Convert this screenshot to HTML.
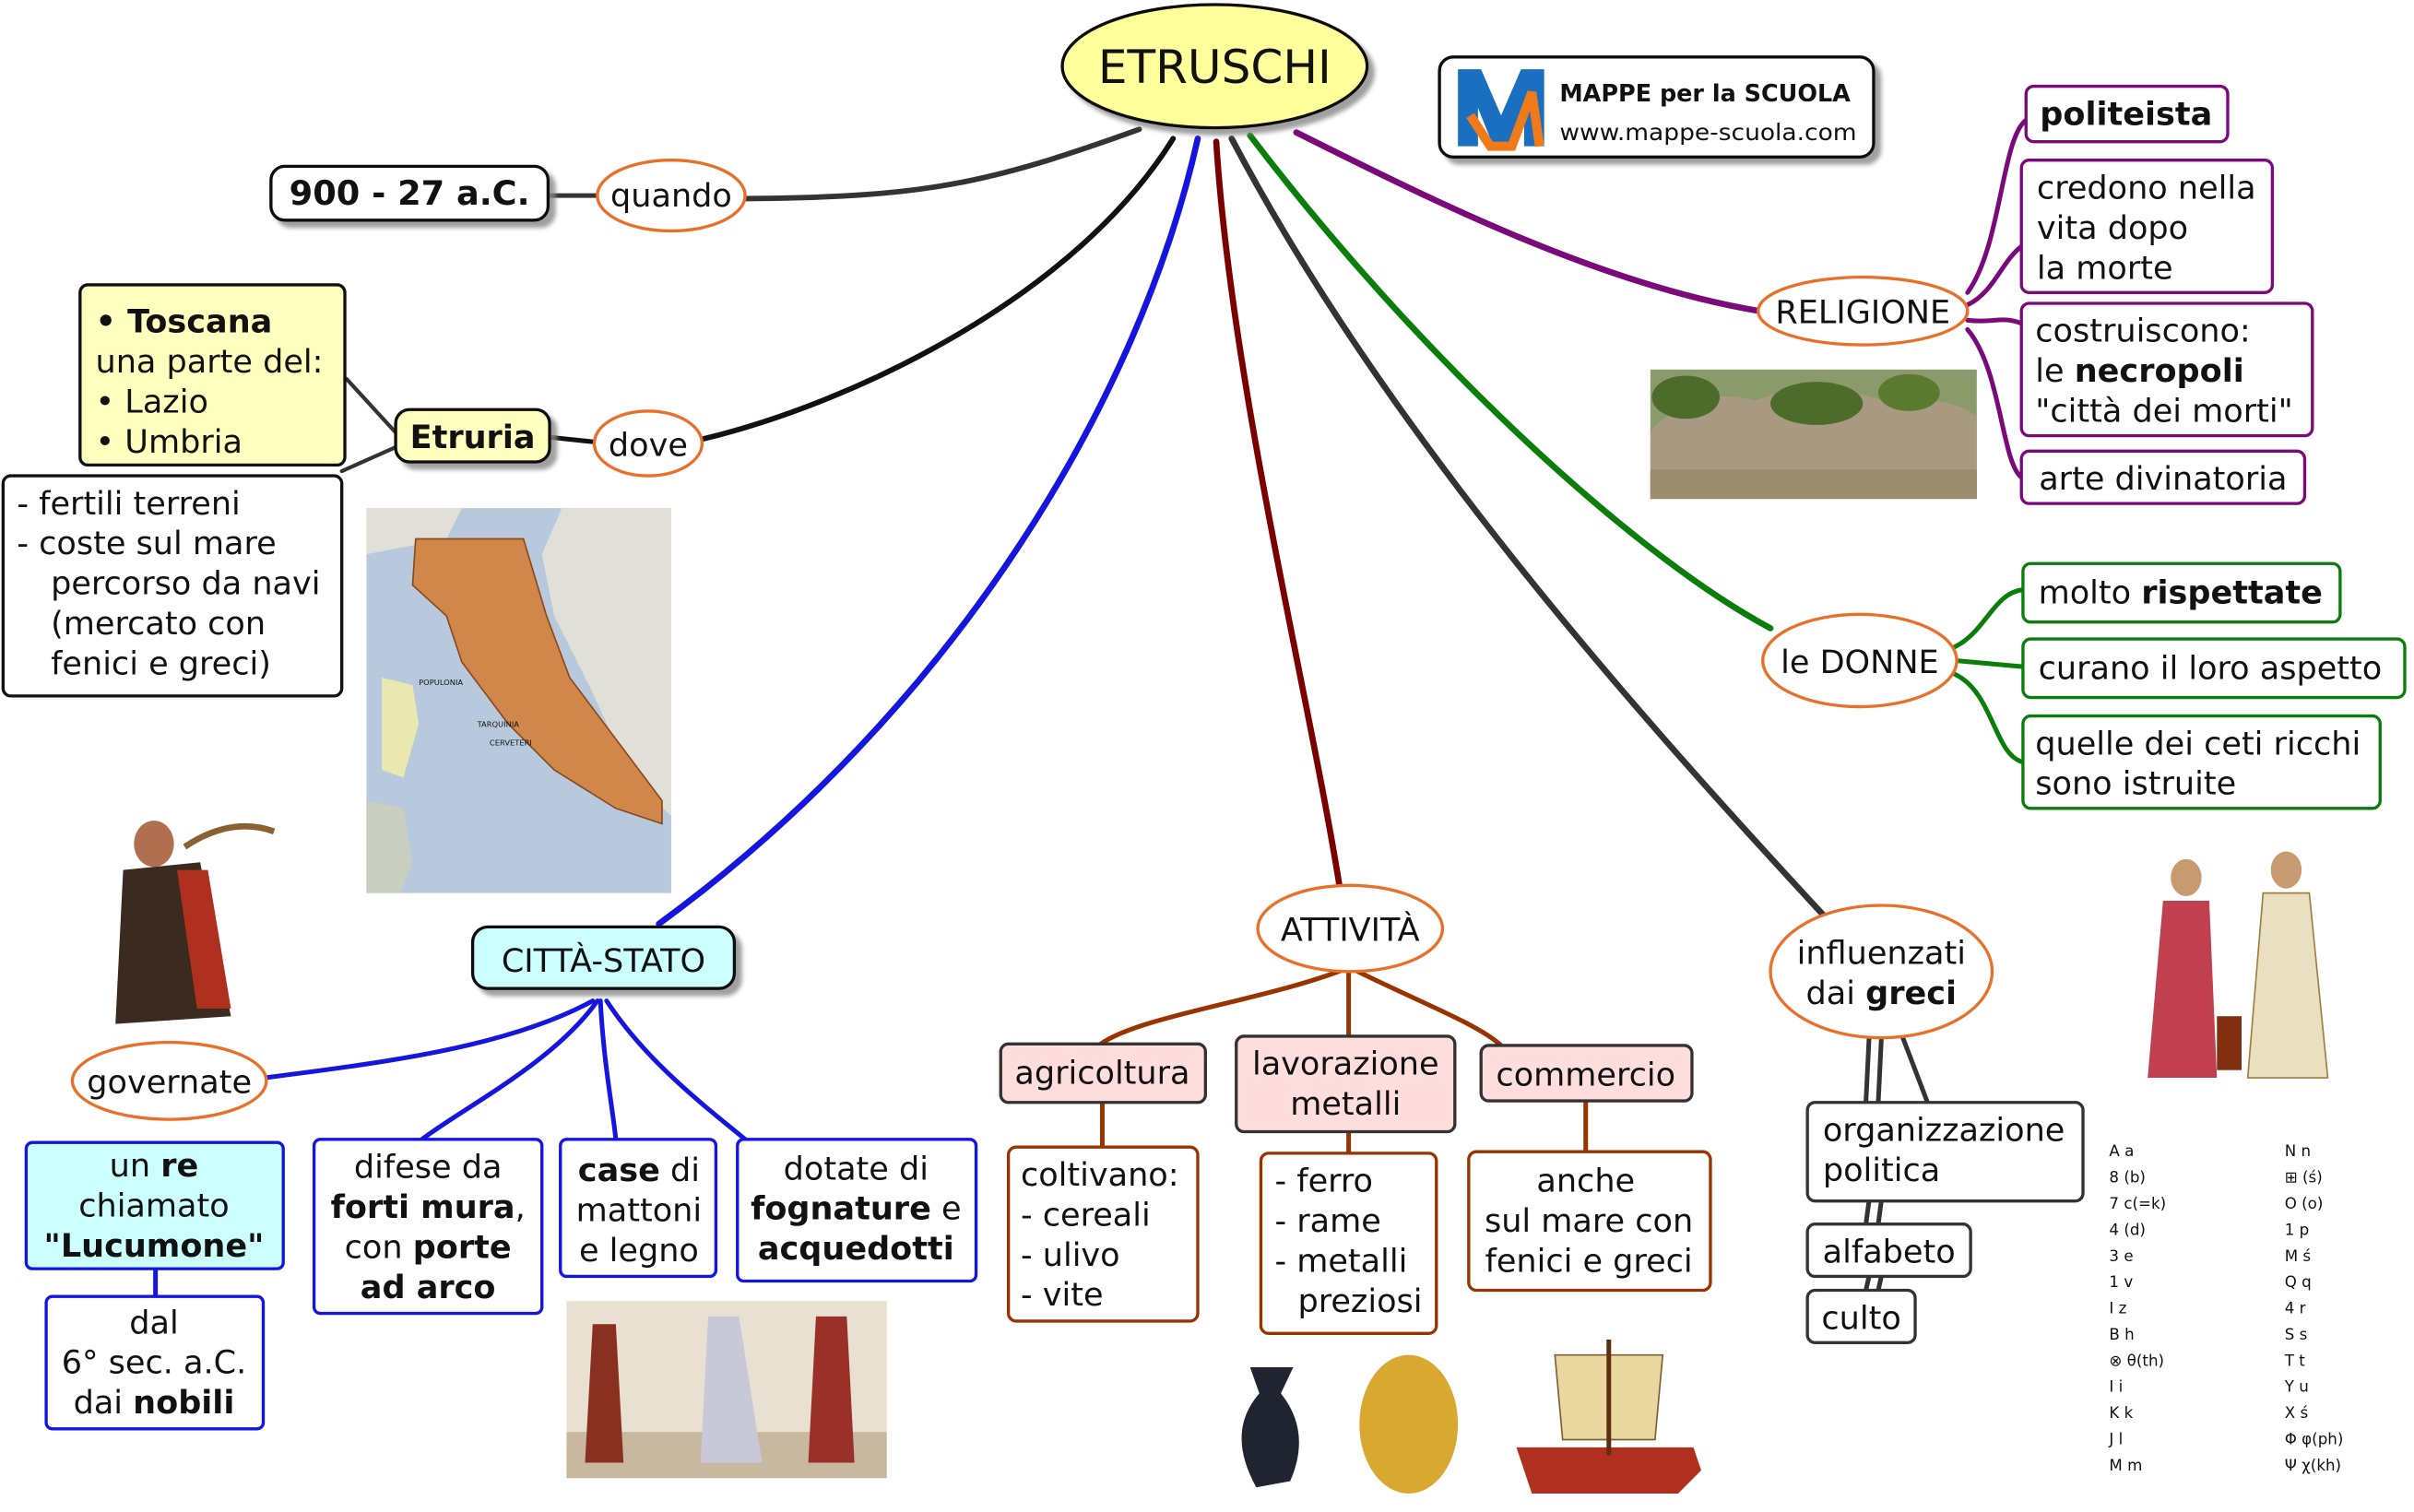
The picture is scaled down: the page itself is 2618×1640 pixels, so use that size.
<!DOCTYPE html>
<html><head><meta charset="utf-8">
<style>
html,body{margin:0;padding:0;background:#fff;}
svg{display:block;}
text{font-family:"DejaVu Sans","Liberation Sans",sans-serif;fill:#111;}
</style></head>
<body>
<svg width="2618" height="1640" viewBox="0 0 1568 982" preserveAspectRatio="none" xmlns="http://www.w3.org/2000/svg">
<defs>
<filter id="sh" x="-10%" y="-10%" width="130%" height="140%"><feDropShadow dx="4" dy="4" stdDeviation="1.5" flood-color="#888" flood-opacity="0.8"/></filter>
</defs>
<rect width="1568" height="982" fill="#fff"/>

<g fill="none" stroke-linecap="round">
<path d="M740 84 C640 120 600 128 484 129" stroke="#333" stroke-width="3.5"/>
<path d="M762 90 C700 190 560 260 457 285" stroke="#111" stroke-width="3.5"/>
<path d="M778 90 C740 260 620 460 428 600" stroke="#1515e0" stroke-width="4"/>
<path d="M790 92 C800 250 850 450 870 575" stroke="#7a0000" stroke-width="4"/>
<path d="M800 90 C900 280 1060 460 1185 595" stroke="#333" stroke-width="4"/>
<path d="M812 88 C920 230 1060 360 1150 408" stroke="#0a7d0a" stroke-width="4"/>
<path d="M842 86 C930 130 1040 185 1143 202" stroke="#7a0a7a" stroke-width="4"/>
<path d="M356 127 L388 127" stroke="#333" stroke-width="3"/>
<path d="M357 284 L386 287" stroke="#111" stroke-width="3"/>
<path d="M258 282 L225 246 M258 290 L222 306" stroke="#333" stroke-width="2.5"/>
<path d="M1278 190 C1300 160 1300 90 1316 78" stroke="#7a0a7a" stroke-width="3"/>
<path d="M1278 198 C1295 190 1300 170 1313 160" stroke="#7a0a7a" stroke-width="3"/>
<path d="M1278 208 C1295 210 1300 205 1313 210" stroke="#7a0a7a" stroke-width="3"/>
<path d="M1278 214 C1300 240 1300 300 1313 310" stroke="#7a0a7a" stroke-width="3"/>
<path d="M1270 420 C1290 410 1295 385 1314 383" stroke="#0a7d0a" stroke-width="3"/>
<path d="M1270 429 L1314 433" stroke="#0a7d0a" stroke-width="3"/>
<path d="M1270 438 C1295 450 1295 490 1314 495" stroke="#0a7d0a" stroke-width="3"/>
<path d="M385 650 C330 680 250 690 172 700" stroke="#1515e0" stroke-width="3"/>
<path d="M388 650 C360 690 300 720 274 740" stroke="#1515e0" stroke-width="3"/>
<path d="M390 650 C392 690 398 720 400 740" stroke="#1515e0" stroke-width="3"/>
<path d="M394 650 C420 690 460 720 484 740" stroke="#1515e0" stroke-width="3"/>
<path d="M101 824 L101 842" stroke="#1515e0" stroke-width="3"/>
<path d="M872 630 C820 650 740 660 715 678" stroke="#993300" stroke-width="3"/>
<path d="M876 630 L876 673" stroke="#993300" stroke-width="3"/>
<path d="M880 630 C920 650 960 665 975 679" stroke="#993300" stroke-width="3"/>
<path d="M716 716 L716 745 M876 735 L876 749 M1030 715 L1030 748" stroke="#993300" stroke-width="3"/>
<path d="M1222 675 L1220 716 M1214 675 L1212 716 M1236 674 L1252 716" stroke="#333" stroke-width="3"/>
<path d="M1214 780 L1212 795 M1222 780 L1220 795" stroke="#333" stroke-width="3"/>
<path d="M1214 829 L1212 838 M1222 829 L1220 838" stroke="#333" stroke-width="3"/>
</g>

<ellipse cx="789" cy="43" rx="99" ry="40" fill="#ffff9c" stroke="#111" stroke-width="2" filter="url(#sh)"/>
<text x="789" y="54" font-size="30" text-anchor="middle">ETRUSCHI</text>

<rect x="935" y="37" width="282" height="65" rx="9" fill="#fff" stroke="#111" stroke-width="2" filter="url(#sh)"/>
<path d="M947 95 L947 45 L962 45 L975 75 L988 45 L1003 45 L1003 95 L990 95 L990 70 L980 95 L970 95 L960 70 L960 95 Z" fill="#1a6fc0"/>
<path d="M955 75 L968 95 L982 95 L995 60 L1000 95" fill="none" stroke="#f07a1a" stroke-width="6"/>
<text x="1013" y="66" font-size="15.5" font-weight="bold" textLength="189" lengthAdjust="spacingAndGlyphs">MAPPE per la SCUOLA</text>
<text x="1013" y="91" font-size="15" textLength="193" lengthAdjust="spacingAndGlyphs">www.mappe-scuola.com</text>

<rect x="176" y="108" width="180" height="35" rx="9" fill="#fff" stroke="#111" stroke-width="2" filter="url(#sh)"/>
<text x="266" y="133" font-size="22" font-weight="bold" text-anchor="middle">900 - 27 a.C.</text>
<ellipse cx="436" cy="127" rx="48" ry="23" fill="#fff" stroke="#e8702a" stroke-width="2"/>
<text x="436" y="134" font-size="21" text-anchor="middle">quando</text>

<ellipse cx="421" cy="288" rx="35" ry="21" fill="#fff" stroke="#e8702a" stroke-width="2"/>
<text x="421" y="296" font-size="21" text-anchor="middle">dove</text>
<rect x="257" y="266" width="100" height="34" rx="9" fill="#ffffc0" stroke="#111" stroke-width="2" filter="url(#sh)"/>
<text x="307" y="291" font-size="21" font-weight="bold" text-anchor="middle">Etruria</text>
<rect x="52" y="185" width="172" height="117" rx="5" fill="#ffffc0" stroke="#111" stroke-width="2"/>
<text font-size="21"><tspan x="62" y="216" font-weight="bold">• Toscana</tspan><tspan x="62" y="242">una parte del:</tspan><tspan x="62" y="268">• Lazio</tspan><tspan x="62" y="294">• Umbria</tspan></text>
<rect x="2" y="309" width="220" height="143" rx="5" fill="#fff" stroke="#111" stroke-width="2"/>
<text font-size="21"><tspan x="11" y="334">- fertili terreni</tspan><tspan x="11" y="360">- coste sul mare</tspan><tspan x="33" y="386">percorso da navi</tspan><tspan x="33" y="412">(mercato con</tspan><tspan x="33" y="438">fenici e greci)</tspan></text>

<g>
<rect x="238" y="330" width="198" height="250" fill="#b9c9dd"/>
<path d="M365 330 L436 330 L436 530 L410 505 L385 450 L360 400 L352 360 Z" fill="#e0e0d8"/>
<path d="M238 330 L300 330 L290 350 L238 360 Z" fill="#e0e0d8"/>
<path d="M270 350 L340 350 L355 400 L370 440 L400 480 L430 520 L430 535 L400 525 L360 500 L330 470 L300 430 L290 400 L268 380 Z" fill="#d2874a" stroke="#8a4a20" stroke-width="1"/>
<path d="M248 440 L268 445 L272 470 L262 505 L248 500 Z" fill="#e8e8b0"/>
<path d="M238 520 L262 525 L268 560 L260 580 L238 580 Z" fill="#c8cfc0"/>
<text x="272" y="445" font-size="5">POPULONIA</text><text x="310" y="472" font-size="5">TARQUINIA</text><text x="318" y="484" font-size="5">CERVETERI</text>
</g>

<ellipse cx="1210" cy="202" rx="68" ry="22" fill="#fff" stroke="#e8702a" stroke-width="2"/>
<text x="1210" y="210" font-size="21" text-anchor="middle">RELIGIONE</text>
<rect x="1316" y="56" width="131" height="36" rx="5" fill="#fff" stroke="#7a0a7a" stroke-width="2"/>
<text x="1381" y="81" font-size="21" font-weight="bold" text-anchor="middle">politeista</text>
<rect x="1313" y="104" width="163" height="86" rx="5" fill="#fff" stroke="#7a0a7a" stroke-width="2"/>
<text font-size="21"><tspan x="1323" y="129">credono nella</tspan><tspan x="1323" y="155">vita dopo</tspan><tspan x="1323" y="181">la morte</tspan></text>
<rect x="1313" y="197" width="189" height="86" rx="5" fill="#fff" stroke="#7a0a7a" stroke-width="2"/>
<text font-size="21"><tspan x="1322" y="222">costruiscono:</tspan><tspan x="1322" y="248">le <tspan font-weight="bold">necropoli</tspan></tspan><tspan x="1322" y="274">"città dei morti"</tspan></text>
<rect x="1313" y="293" width="184" height="34" rx="5" fill="#fff" stroke="#7a0a7a" stroke-width="2"/>
<text x="1405" y="318" font-size="21" text-anchor="middle">arte divinatoria</text>
<rect x="1072" y="240" width="212" height="84" fill="#8a9a6a"/>
<path d="M1072 280 Q1100 250 1140 260 Q1180 245 1230 262 Q1260 255 1284 270 L1284 324 L1072 324 Z" fill="#a89a80"/>
<ellipse cx="1180" cy="262" rx="30" ry="14" fill="#4d6b2a"/><ellipse cx="1095" cy="258" rx="22" ry="14" fill="#4d6b2a"/>
<ellipse cx="1240" cy="255" rx="20" ry="12" fill="#5a7a30"/>
<rect x="1072" y="305" width="212" height="19" fill="#9a8c6c"/>

<ellipse cx="1208" cy="429" rx="63" ry="30" fill="#fff" stroke="#e8702a" stroke-width="2"/>
<text x="1208" y="437" font-size="21" text-anchor="middle">le DONNE</text>
<rect x="1314" y="366" width="206" height="38" rx="5" fill="#fff" stroke="#0a7d0a" stroke-width="2"/>
<text x="1324" y="392" font-size="21">molto <tspan font-weight="bold">rispettate</tspan></text>
<rect x="1314" y="415" width="248" height="38" rx="5" fill="#fff" stroke="#0a7d0a" stroke-width="2"/>
<text x="1324" y="441" font-size="21">curano il loro aspetto</text>
<rect x="1314" y="465" width="232" height="60" rx="5" fill="#fff" stroke="#0a7d0a" stroke-width="2"/>
<text font-size="21"><tspan x="1322" y="490">quelle dei ceti ricchi</tspan><tspan x="1322" y="516">sono istruite</tspan></text>

<g>
<ellipse cx="1420" cy="570" rx="10" ry="12" fill="#c89a70"/>
<path d="M1405 585 L1435 585 L1440 700 L1395 700 Z" fill="#c04050"/>
<ellipse cx="1485" cy="565" rx="10" ry="12" fill="#c89a70"/>
<path d="M1470 580 L1500 580 L1512 700 L1460 700 Z" fill="#e8e0c0" stroke="#a08040"/>
<rect x="1440" y="660" width="16" height="35" fill="#803010"/>
</g>

<rect x="307" y="602" width="170" height="40" rx="10" fill="#ccffff" stroke="#111" stroke-width="2" filter="url(#sh)"/>
<text x="392" y="631" font-size="21" text-anchor="middle">CITTÀ-STATO</text>
<ellipse cx="110" cy="702" rx="63" ry="25" fill="#fff" stroke="#e8702a" stroke-width="2"/>
<text x="110" y="710" font-size="21" text-anchor="middle">governate</text>
<rect x="17" y="742" width="167" height="82" rx="4" fill="#ccffff" stroke="#1515e0" stroke-width="2"/>
<text font-size="21" text-anchor="middle"><tspan x="100" y="764">un <tspan font-weight="bold">re</tspan></tspan><tspan x="100" y="790">chiamato</tspan><tspan x="100" y="816" font-weight="bold">"Lucumone"</tspan></text>
<rect x="30" y="842" width="141" height="86" rx="4" fill="#fff" stroke="#1515e0" stroke-width="2"/>
<text font-size="21" text-anchor="middle"><tspan x="100" y="866">dal</tspan><tspan x="100" y="892">6° sec. a.C.</tspan><tspan x="100" y="918">dai <tspan font-weight="bold">nobili</tspan></tspan></text>
<rect x="204" y="740" width="148" height="113" rx="4" fill="#fff" stroke="#1515e0" stroke-width="2"/>
<text font-size="21" text-anchor="middle"><tspan x="278" y="765">difese da</tspan><tspan x="278" y="791" font-weight="bold">forti mura<tspan font-weight="normal">,</tspan></tspan><tspan x="278" y="817">con <tspan font-weight="bold">porte</tspan></tspan><tspan x="278" y="843" font-weight="bold">ad arco</tspan></text>
<rect x="364" y="740" width="101" height="89" rx="4" fill="#fff" stroke="#1515e0" stroke-width="2"/>
<text font-size="21" text-anchor="middle"><tspan x="415" y="767"><tspan font-weight="bold">case</tspan> di</tspan><tspan x="415" y="793">mattoni</tspan><tspan x="415" y="819">e legno</tspan></text>
<rect x="479" y="740" width="155" height="92" rx="4" fill="#fff" stroke="#1515e0" stroke-width="2"/>
<text font-size="21" text-anchor="middle"><tspan x="556" y="766">dotate di</tspan><tspan x="556" y="792"><tspan font-weight="bold">fognature</tspan> e</tspan><tspan x="556" y="818" font-weight="bold">acquedotti</tspan></text>

<g>
<ellipse cx="100" cy="548" rx="13" ry="15" fill="#b07050"/>
<path d="M80 565 L130 560 L150 660 L75 665 Z" fill="#3a2a20"/>
<path d="M115 565 L135 565 L150 655 L128 655 Z" fill="#b03020"/>
<path d="M120 550 Q150 530 178 540" stroke="#8a6030" stroke-width="4" fill="none"/>
</g>
<rect x="368" y="845" width="208" height="115" fill="#e8e0d0"/>
<rect x="368" y="930" width="208" height="30" fill="#c8b8a0"/>
<path d="M385 860 L400 860 L405 950 L380 950 Z" fill="#8a3020"/>
<path d="M460 855 L480 855 L495 950 L455 950 Z" fill="#c8c8d8"/>
<path d="M530 855 L550 855 L555 950 L525 950 Z" fill="#9a3028"/>

<ellipse cx="877" cy="603" rx="60" ry="28" fill="#fff" stroke="#e8702a" stroke-width="2"/>
<text x="877" y="611" font-size="21" text-anchor="middle">ATTIVITÀ</text>
<rect x="650" y="678" width="133" height="38" rx="5" fill="#ffdddd" stroke="#333" stroke-width="2"/>
<text x="716" y="704" font-size="21" text-anchor="middle">agricoltura</text>
<rect x="803" y="673" width="142" height="62" rx="5" fill="#ffdddd" stroke="#333" stroke-width="2"/>
<text font-size="21" text-anchor="middle"><tspan x="874" y="698">lavorazione</tspan><tspan x="874" y="724">metalli</tspan></text>
<rect x="962" y="679" width="137" height="36" rx="5" fill="#ffdddd" stroke="#333" stroke-width="2"/>
<text x="1030" y="705" font-size="21" text-anchor="middle">commercio</text>
<rect x="655" y="745" width="123" height="113" rx="5" fill="#fff" stroke="#993300" stroke-width="2"/>
<text font-size="21"><tspan x="663" y="770">coltivano:</tspan><tspan x="663" y="796">- cereali</tspan><tspan x="663" y="822">- ulivo</tspan><tspan x="663" y="848">- vite</tspan></text>
<rect x="819" y="749" width="114" height="117" rx="5" fill="#fff" stroke="#993300" stroke-width="2"/>
<text font-size="21"><tspan x="828" y="774">- ferro</tspan><tspan x="828" y="800">- rame</tspan><tspan x="828" y="826">- metalli</tspan><tspan x="843" y="852">preziosi</tspan></text>
<rect x="954" y="748" width="157" height="90" rx="5" fill="#fff" stroke="#993300" stroke-width="2"/>
<text font-size="21" text-anchor="middle"><tspan x="1030" y="774">anche</tspan><tspan x="1032" y="800">sul mare con</tspan><tspan x="1032" y="826">fenici e greci</tspan></text>
<path d="M812 888 L840 888 L832 905 Q852 930 838 962 L816 966 Q796 930 818 905 Z" fill="#1f2430"/>
<ellipse cx="915" cy="925" rx="32" ry="45" fill="#d8a830"/>
<path d="M985 940 L1100 940 L1105 955 L1090 970 L995 970 Z" fill="#b03020"/>
<path d="M1010 880 L1080 880 L1075 935 L1015 935 Z" fill="#e8d8a0" stroke="#806030"/>
<line x1="1045" y1="870" x2="1045" y2="945" stroke="#5a3010" stroke-width="3"/>

<ellipse cx="1222" cy="631" rx="72" ry="43" fill="#fff" stroke="#e8702a" stroke-width="2"/>
<text font-size="21" text-anchor="middle"><tspan x="1222" y="626">influenzati</tspan><tspan x="1222" y="652">dai <tspan font-weight="bold">greci</tspan></tspan></text>
<rect x="1174" y="716" width="179" height="64" rx="5" fill="#fff" stroke="#333" stroke-width="2"/>
<text font-size="21"><tspan x="1184" y="741">organizzazione</tspan><tspan x="1184" y="767">politica</tspan></text>
<rect x="1174" y="795" width="106" height="34" rx="5" fill="#fff" stroke="#333" stroke-width="2"/>
<text x="1227" y="820" font-size="21" text-anchor="middle">alfabeto</text>
<rect x="1174" y="838" width="70" height="34" rx="5" fill="#fff" stroke="#333" stroke-width="2"/>
<text x="1209" y="863" font-size="21" text-anchor="middle">culto</text>

<g font-size="10" fill="#222">
<text x="1370" y="751">A   a</text><text x="1370" y="768">8   (b)</text><text x="1370" y="785">7   c(=k)</text><text x="1370" y="802">4   (d)</text><text x="1370" y="819">3   e</text><text x="1370" y="836">1   v</text><text x="1370" y="853">I   z</text><text x="1370" y="870">B   h</text><text x="1370" y="887">⊗   θ(th)</text><text x="1370" y="904">I   i</text><text x="1370" y="921">K   k</text><text x="1370" y="938">J   l</text><text x="1370" y="955">M   m</text>
<text x="1484" y="751">N   n</text><text x="1484" y="768">⊞   (ś)</text><text x="1484" y="785">O   (o)</text><text x="1484" y="802">1   p</text><text x="1484" y="819">M   ś</text><text x="1484" y="836">Q   q</text><text x="1484" y="853">4   r</text><text x="1484" y="870">S   s</text><text x="1484" y="887">T   t</text><text x="1484" y="904">Y   u</text><text x="1484" y="921">X   ś</text><text x="1484" y="938">Φ   φ(ph)</text><text x="1484" y="955">Ψ   χ(kh)</text>
</g>
</svg>
</body></html>
